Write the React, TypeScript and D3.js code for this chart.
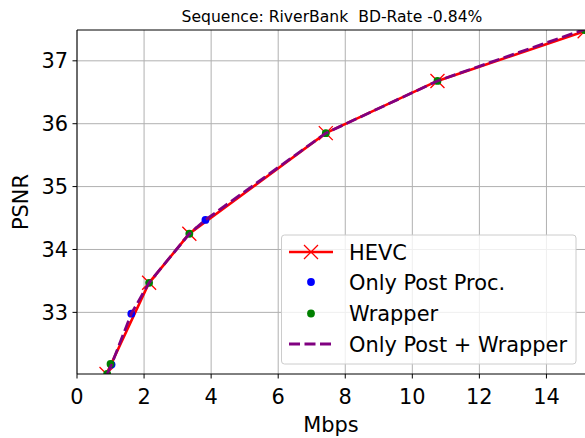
import React from "react";
import * as d3 from "d3";

// RD curves, bitrate in Mbps / PSNR in dB
const hevcRate = [0.88, 2.15, 3.35, 7.42, 10.75, 15.14];
const hevcPsnr = [32.02, 33.47, 34.25, 35.85, 36.68, 37.47];

const postRate = [1.03, 1.62, 3.83];
const postPsnr = [32.17, 32.98, 34.47];

const wrapRate = [0.9, 1.0, 2.15, 3.35, 7.42, 10.75, 15.14];
const wrapPsnr = [32.02, 32.18, 33.47, 34.25, 35.85, 36.68, 37.49];

const bothRate = [0.9, 1.03, 1.62, 2.15, 3.35, 3.83, 7.42, 10.75, 15.14];
const bothPsnr = [32.02, 32.17, 32.98, 33.47, 34.25, 34.47, 35.85, 36.68, 37.5];

const xTicks = [0, 2, 4, 6, 8, 10, 12, 14];
const yTicks = [33, 34, 35, 36, 37];
const legendLabels = ["HEVC", "Only Post Proc.", "Wrapper", "Only Post + Wrapper"];

const W = 585, H = 438;
const left = 77, top = 30, right = 585, bottom = 374;
const font = "'DejaVu Sans', sans-serif";
const fs = 20.9;

const x = d3.scaleLinear().domain([0, 15.15]).range([left, right]);
const y = d3.scaleLinear().domain([32.02, 37.49]).range([bottom, top]);

const pts = (xs: number[], ys: number[]) => xs.map((v, i) => [v, ys[i]] as [number, number]);
const line = d3.line<[number, number]>().x(d => x(d[0])).y(d => y(d[1]));

const xMark = "M-7,-7L7,7M-7,7L7,-7";

export default function App() {
  const hevc = pts(hevcRate, hevcPsnr);
  const post = pts(postRate, postPsnr);
  const wrap = pts(wrapRate, wrapPsnr);
  const both = pts(bothRate, bothPsnr);
  const rowY = [252, 282, 313.5, 344];

  return (
    <svg width={W} height={H} style={{ position: "absolute", left: 0, top: 0, background: "#fff" }} fontFamily={font}>
      <defs>
        <clipPath id="plot"><rect x={left} y={top} width={right - left} height={bottom - top} /></clipPath>
      </defs>

      {/* grid */}
      {xTicks.map(t => (
        <line key={"gx" + t} x1={x(t)} x2={x(t)} y1={top} y2={bottom} stroke="#b0b0b0" strokeWidth={1} />
      ))}
      {yTicks.map(t => (
        <line key={"gy" + t} x1={left} x2={right} y1={y(t)} y2={y(t)} stroke="#b0b0b0" strokeWidth={1} />
      ))}

      <g clipPath="url(#plot)">
        <path d={line(hevc) || ""} fill="none" stroke="red" strokeWidth={2.6} />
        {hevc.map((d, i) => (
          <path key={"h" + i} d={xMark} transform={`translate(${x(d[0])},${y(d[1])})`} stroke="red" strokeWidth={1.3} fill="none" />
        ))}
        {post.map((d, i) => (
          <circle key={"p" + i} cx={x(d[0])} cy={y(d[1])} r={3.9} fill="blue" />
        ))}
        {wrap.map((d, i) => (
          <circle key={"w" + i} cx={x(d[0])} cy={y(d[1])} r={3.9} fill="green" />
        ))}
        <path d={line(both) || ""} fill="none" stroke="purple" strokeWidth={2.8} strokeDasharray="11,4.5" />
      </g>

      {/* spines */}
      <line x1={left} x2={left} y1={top} y2={bottom} stroke="#000" strokeWidth={1} />
      <line x1={left} x2={right} y1={bottom} y2={bottom} stroke="#000" strokeWidth={1} />
      <line x1={left} x2={right} y1={top} y2={top} stroke="#000" strokeWidth={1} />

      {/* x axis */}
      {xTicks.map(t => (
        <g key={"xt" + t} transform={`translate(${x(t)},${bottom})`}>
          <line y2={4.5} stroke="#000" />
          <text y={30} textAnchor="middle" fontSize={fs}>{t}</text>
        </g>
      ))}
      <text x={(left + right) / 2} y={432} textAnchor="middle" fontSize={fs}>Mbps</text>

      {/* y axis */}
      {yTicks.map(t => (
        <g key={"yt" + t} transform={`translate(${left},${y(t)})`}>
          <line x2={-4.5} stroke="#000" />
          <text x={-9} dy="0.36em" textAnchor="end" fontSize={fs}>{t}</text>
        </g>
      ))}
      <text transform={`translate(28,${(top + bottom) / 2}) rotate(-90)`} textAnchor="middle" fontSize={fs}>PSNR</text>

      <text x={332} y={22} textAnchor="middle" fontSize={15.6} style={{ whiteSpace: "pre" }}>Sequence: RiverBank  BD-Rate -0.84%</text>

      {/* legend */}
      <rect x={281.5} y={235} width={294.5} height={129} rx={3} fill="#fff" fillOpacity={0.8} stroke="#cccccc" strokeWidth={1} />
      <line x1={289} x2={333} y1={rowY[0]} y2={rowY[0]} stroke="red" strokeWidth={2.6} />
      <path d={xMark} transform={`translate(311,${rowY[0]})`} stroke="red" strokeWidth={1.3} fill="none" />
      <circle cx={311} cy={rowY[1]} r={3.9} fill="blue" />
      <circle cx={311} cy={rowY[2]} r={3.9} fill="green" />
      <line x1={289} x2={333} y1={rowY[3]} y2={rowY[3]} stroke="purple" strokeWidth={2.8} strokeDasharray="11,4.5" />
      {legendLabels.map((l, i) => (
        <text key={l} x={349} y={rowY[i]} dy="0.36em" fontSize={fs}>{l}</text>
      ))}
    </svg>
  );
}
